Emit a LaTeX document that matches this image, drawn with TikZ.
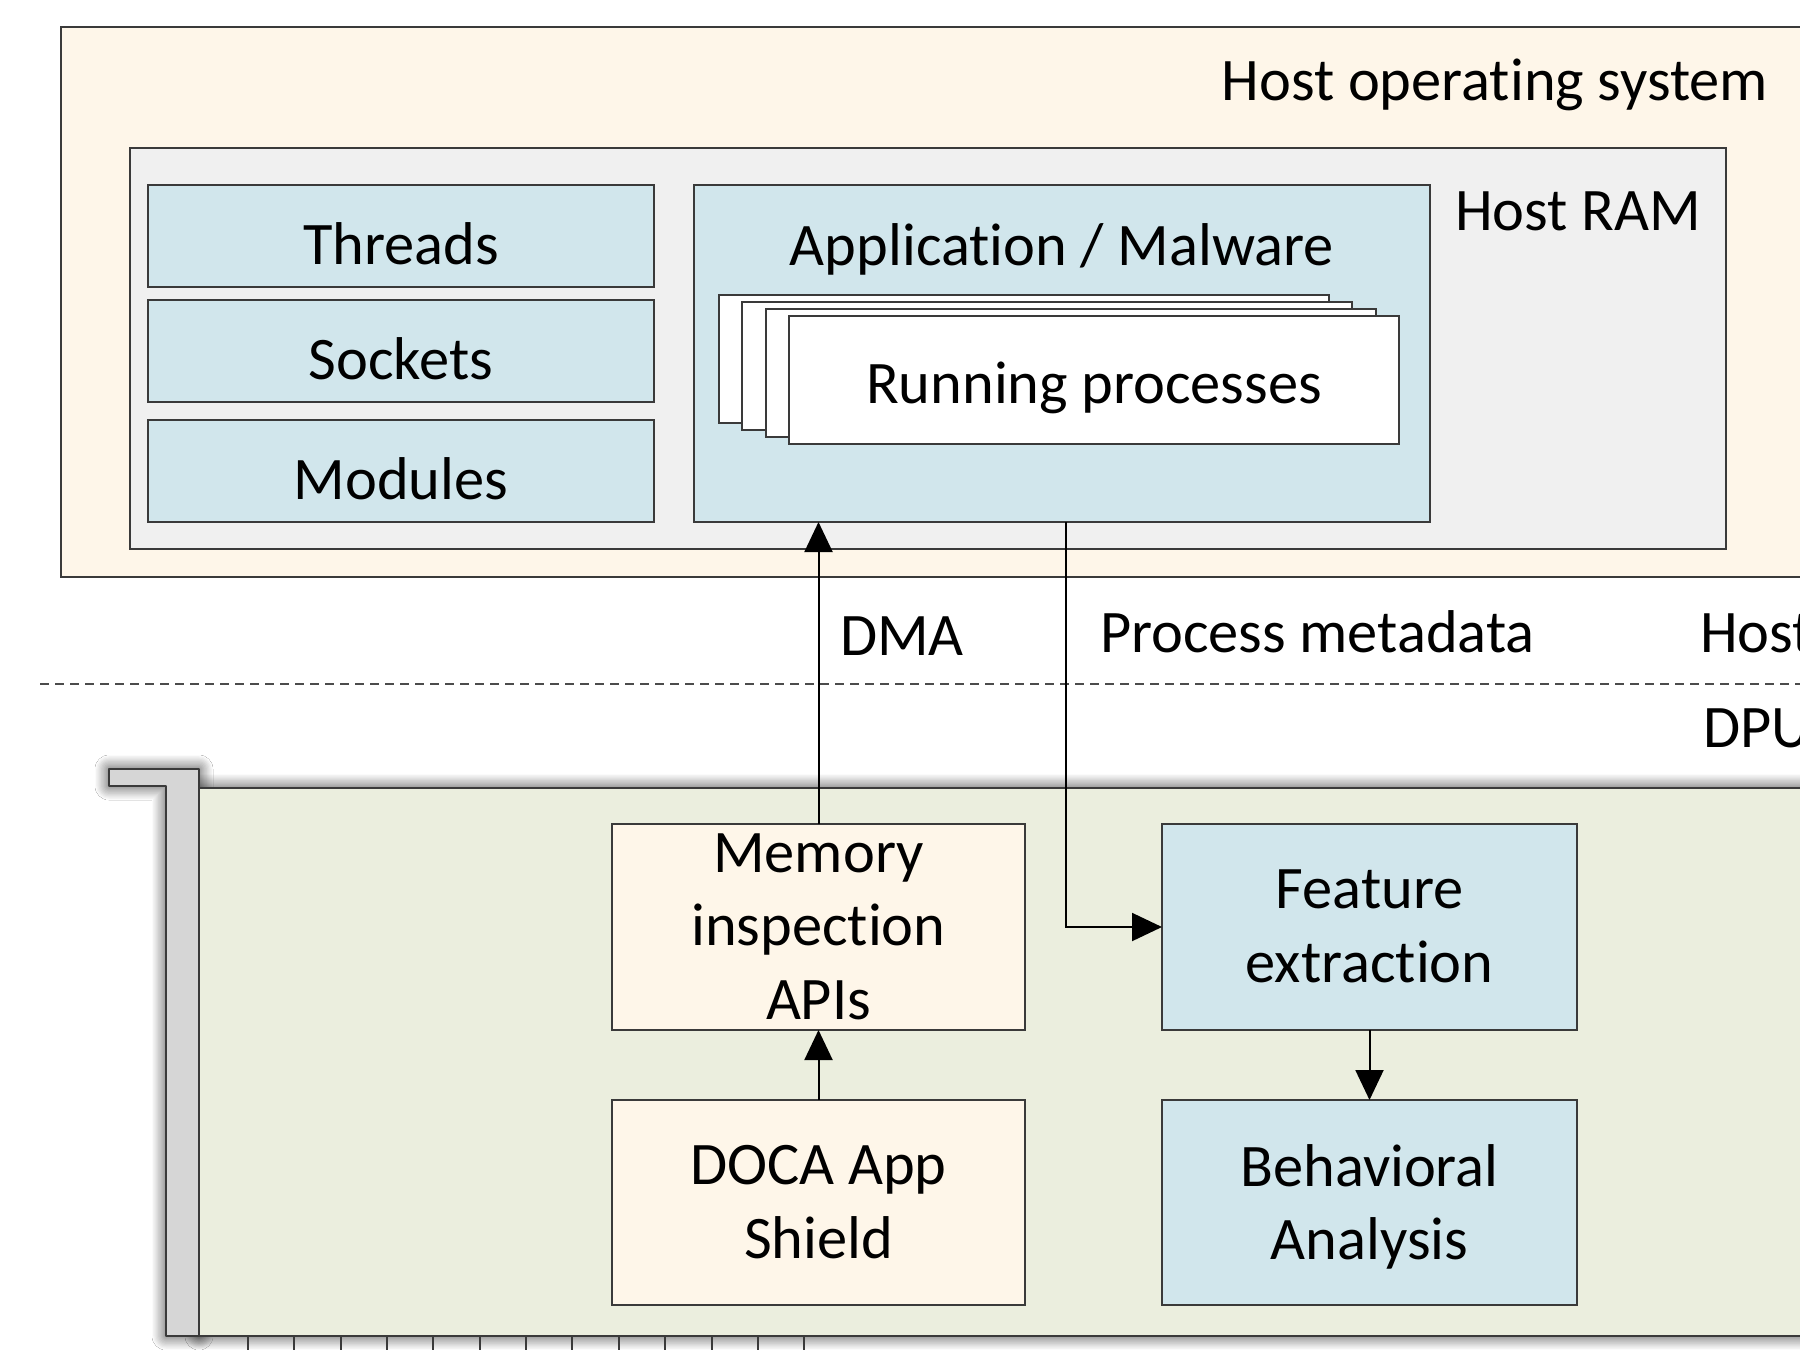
\documentclass[tikz,border=0pt]{standalone}
\usepackage{fontspec}
\setmainfont[Ligatures={NoCommon,NoRare,NoContextual}]{Carlito}
\usetikzlibrary{arrows.meta,fit,shadows.blur}

\definecolor{oscream}{HTML}{FEF6E9}
\definecolor{ramgray}{HTML}{F0F0F0}
\definecolor{boxblue}{HTML}{D1E6EC}
\definecolor{cardgreen}{HTML}{EBEEDE}
\definecolor{bracketgray}{HTML}{D6D6D6}
\definecolor{edge}{HTML}{3A3A3A}

% line box of one text line: ascent 0.952em, descent 0.269em
\newcommand\lnstrut{\rule[-0.269em]{0pt}{1.221em}}

\tikzset{
  frame/.style={draw=edge, line width=1.1pt, rectangle, inner sep=0pt, outer sep=0pt},
  txt/.style={font=\fontsize{30.2}{36.9}\selectfont, inner sep=0pt, outer sep=0pt,
              align=center, text=black},
  boxtxt/.style={txt, yshift=-3.8pt, execute at begin node=\lnstrut, execute at end node=\lnstrut},
  conn/.style={draw=black, line width=1pt, -{Triangle[length=15pt,width=14pt]}},
  sep line/.style={draw=black!70, line width=0.75pt, dash pattern=on 4.5pt off 3pt},
  card shadow/.style={blur shadow={shadow xshift=0pt, shadow yshift=0pt,
              shadow blur radius=7pt, shadow opacity=80, shadow blur steps=12}},
  pinline/.style={draw=edge, line width=1pt},
}

\begin{document}
\begin{tikzpicture}[x=0.5pt, y=-0.5pt]
\useasboundingbox (0,0) rectangle (1800,1350);
\clip (0,0) rectangle (1800,1350);
\fill[white] (0,0) rectangle (1800,1350);

% ---------------- host side ----------------
\node[frame, fill=oscream, fit={(61,27) (1840,577)}] (hostos) {};
\node[txt, anchor=base east] (hostosT) at (1768,100) {Host operating system};

\node[frame, fill=ramgray, fit={(130,148) (1726,549)}] (ram) {};
\node[txt, anchor=base west] (ramT) at (1455,230) {Host RAM};

\node[frame, fill=boxblue, fit={(148,185) (654,287)}] (thr) {};
\node[boxtxt] (thrT) at (thr.center) {Threads};
\node[frame, fill=boxblue, fit={(148,300) (654,402)}] (soc) {};
\node[boxtxt] (socT) at (soc.center) {Sockets};
\node[frame, fill=boxblue, fit={(148,420) (654,522)}] (mods) {};
\node[boxtxt] (modsT) at (mods.center) {Modules};

\node[frame, fill=boxblue, fit={(694,185) (1430,522)}] (app) {};
\node[txt, anchor=base] (appT) at (1062,265) {Application / Malware};

% stacked process cards, back to front
\foreach \k in {0,1,2} {
  \node[frame, fill=white, fit={({719+23.3*\k},{295+7*\k}) ({1329+23.3*\k},{423+7*\k})}] (pc\k) {};
}
\node[frame, fill=white, fit={(789,316) (1399,444)}] (proc) {};
\node[boxtxt, yshift=2.5pt] (procT) at (proc.center) {Running processes};

% ---------------- boundary ----------------
\node[txt, anchor=base west] (dmaT) at (840,655) {DMA};
\node[txt, anchor=base west] (metaT) at (1100,652) {Process metadata};
\node[txt, anchor=base west] (hostT) at (1700,652) {Host};
\coordinate (sepL) at (40,684);
\coordinate (sepR) at (1800,684);
\draw[sep line] (sepL) -- (sepR);
\node[txt, anchor=base west] (dpuT) at (1703,747) {DPU};

% ---------------- DPU card ----------------
\path[card shadow] (199,788) rectangle (1840,1336);
\path[card shadow] (109,769) -- (199,769) -- (199,1336) -- (166,1336) -- (166,786) -- (109,786) -- cycle;
\foreach \k in {0,...,12} {
  \draw[pinline] ({248+46.35*\k},1336) -- ({248+46.35*\k},1360);
}
\draw[draw=edge, line width=1.1pt, fill=cardgreen] (199,788) rectangle (1840,1336);
\draw[draw=edge, line width=1.1pt, fill=bracketgray, line join=round]
  (109,769) -- (199,769) -- (199,1336) -- (166,1336) -- (166,786) -- (109,786) -- cycle;

\node[frame, fill=oscream, fit={(612,824) (1025,1030)}] (mem) {};
\node[boxtxt] (memT) at (mem.center) {Memory\\inspection\\APIs};
\node[frame, fill=oscream, fit={(612,1100) (1025,1305)}] (doca) {};
\node[boxtxt] (docaT) at (doca.center) {DOCA App\\Shield};
\node[frame, fill=boxblue, fit={(1162,824) (1577,1030)}] (feat) {};
\node[boxtxt] (featT) at (feat.center) {Feature\\extraction};
\node[frame, fill=boxblue, fit={(1162,1100) (1577,1305)}] (beh) {};
\node[boxtxt] (behT) at (beh.center) {Behavioral\\Analysis};

% ---------------- connectors ----------------
\draw[conn] (mem.north) -- (mem.north |- app.south);
\draw[conn] ([xshift=2pt]app.south) |- (feat.west);
\draw[conn] (doca.north) -- (mem.south);
\draw[conn] (feat.south) -- (beh.north);
\end{tikzpicture}
\end{document}
